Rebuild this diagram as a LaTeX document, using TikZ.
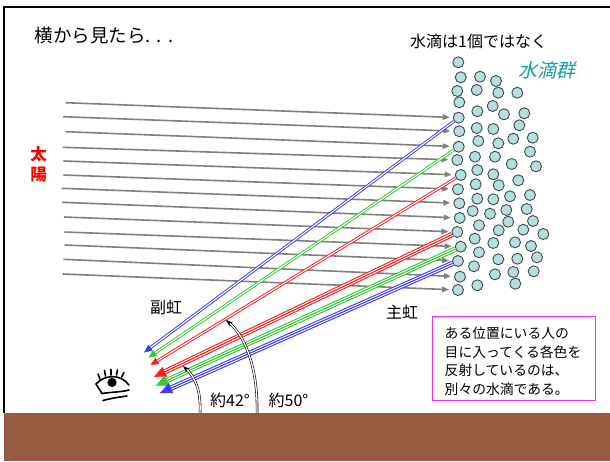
\documentclass[tikz,border=0pt]{standalone}
\usepackage{fontspec}
\setmainfont{Noto Sans CJK JP}
\newfontfamily\slantcjk[FakeSlant=0.22]{Noto Sans CJK JP}
\usetikzlibrary{arrows.meta,calc}
\definecolor{sunray}{RGB}{128,128,128}
\definecolor{dropfill}{RGB}{182,222,222}
\definecolor{dropedge}{RGB}{64,76,76}
\definecolor{rred}{RGB}{255,30,30}
\definecolor{rgreen}{RGB}{50,205,50}
\definecolor{rblue}{RGB}{60,60,255}
\definecolor{ground}{RGB}{150,90,64}
\definecolor{dropteal}{RGB}{20,160,160}
\definecolor{boxpink}{RGB}{240,50,240}

\begin{document}
\begin{tikzpicture}[x=1pt,y=-1pt,
  drop/.style={circle,minimum size=11pt,inner sep=0pt,fill=dropfill,draw=dropedge,line width=0.9pt},
  sun/.style={draw=sunray,line width=1.6pt,-{Triangle[length=7pt,width=5.5pt]},shorten >=3pt},
  lbl/.style={inner sep=0pt,font=\fontsize{16}{18}\selectfont},
  angarc/.style={double=white,draw=black,line width=0.6pt,double distance=1.3pt,-{Stealth[length=7pt,width=5pt]}},
  notebox/.style={draw=boxpink,line width=1.5pt,minimum width=163pt,minimum height=84pt,inner sep=0pt},
]
\useasboundingbox (0,0) rectangle (610,461);

% frame and ground
\fill[ground] (4,413) rectangle (610,461);
\draw[line width=2pt] (4,413) -- (4,6.5) -- (610,6.5);

% titles
\node[inner sep=0pt,font=\fontsize{18.5}{20}\selectfont] (title) at (104,35) {横から見たら.\,\,.\,\,.};
\node[inner sep=0pt,font=\fontsize{16}{18}\selectfont] (notone) at (478.6,41) {水滴は1個ではなく};
\node[inner sep=0pt,font=\fontsize{19}{21}\slantcjk,text=dropteal] (group) at (546.7,70) {水滴群};
\node[inner sep=0pt,font=\fontsize{16.5}{20}\bfseries\selectfont,text=red,align=center] (sun) at (38.5,164) {太\\陽};

% droplets: front column
\foreach \n/\x/\y in {L1/458.3/62.3, L2/460.7/77.3, L3/457.3/91, L4/459.3/102.3,
  L5/458.7/117.7, L6/459.3/131.3, L7/458.7/146.7, L8/457.3/160, L9/460.7/175,
  L10/458/189.3, L11/459.3/203.3, L12/459.7/218, L13/457.3/232, L14/460.7/246.7,
  L15/458/261, L16/460/276.7, L17/458/290}
  \node[drop] (\n) at (\x,\y) {};
% droplets: rest of the cloud
\foreach \x/\y [count=\i] in {480/76.7, 496/81, 476.7/90, 498.3/92.7, 517.3/92.7,
  492.7/106, 477.3/111.3, 504/114.3, 524.3/113.3, 519.3/125.3, 476.7/128,
  493.3/129, 513.3/138.7, 532.7/137.7, 478.3/141, 498.3/143.3, 530/151.7,
  475/156.7, 495/156.7, 511.7/164, 536/166.3, 477.3/170, 493.3/174.3,
  518.3/180.3, 475.7/184.3, 498.7/185.3, 477.3/198.7, 493.3/199.3, 510/196.3,
  530/195, 472.7/211, 490/213.7, 506.3/210, 526.7/209, 479/225.3, 508.3/221.7,
  533/221, 498.7/230.3, 523.3/229.7, 543.3/234, 474.7/238.7, 493.3/243,
  515/242.3, 531/246, 479/252.3, 498.3/259.3, 517.3/258.7, 537/257.3,
  474/266.3, 495/274.3, 513.3/272, 533.7/271.3, 477.3/285.3, 515.3/283.7}
  \node[drop] (D\i) at (\x,\y) {};

% parallel sunlight
\foreach \n/\x/\y/\t in {S1/65.7/102.7/L5, S2/63/116.7/L6, S3/65.7/131.7/L7,
  S4/62.7/147.3/L8, S5/63.3/161/L9, S6/63.3/175/L10, S7/61.7/188.3/L11,
  S8/62/202.3/L12, S9/64/217/L13, S10/64.3/232/L14, S11/64.7/245/L15,
  S12/63.3/259.3/L16, S13/62.7/274/L17} {
  \coordinate (\n) at (\x,\y);
  \draw[sun] (\n) -- (\t);
}

% ends of the coloured rays at the eye
\coordinate (eBs) at (144,352.5);
\coordinate (eGs) at (148.5,357.5);
\coordinate (eRs) at (150.5,365);
\coordinate (eRp) at (154,377);
\coordinate (eGp) at (156,385.5);
\coordinate (eBp) at (160,393);

% secondary bow rays (double lines)
\foreach \s/\e/\c in {L5/eBs/rblue, L7/eGs/rgreen, L9/eRs/rred} {
  \draw[\c, line width=3pt, shorten >=5pt] (\s) -- (\e);
  \draw[white, line width=1.1pt, shorten >=5pt] (\s) -- (\e);
  \draw[\c, line width=0.4pt, -{Triangle[length=8pt,width=7pt]}] ($(\e)!8pt!(\s)$) -- (\e);
}
% primary bow rays (triple lines)
\foreach \s/\e/\c in {L13/eRp/rred, L14/eGp/rgreen, L15/eBp/rblue} {
  \draw[\c, line width=5.4pt, shorten >=9pt] (\s) -- (\e);
  \draw[white, line width=3.2pt, shorten >=9pt] (\s) -- (\e);
  \draw[\c, line width=1.1pt, shorten >=9pt] (\s) -- (\e);
  \draw[\c, line width=0.4pt, -{Triangle[length=12pt,width=11pt]}] ($(\e)!12pt!(\s)$) -- (\e);
}

% angle arcs from the ground
\coordinate (g42) at (200,413);
\coordinate (t42) at (183,366);
\coordinate (g50) at (257,413);
\coordinate (t50) at (226,320);
\draw[angarc] (g42) .. controls (201,392) and (196,378) .. (t42);
\draw[angarc] (g50) .. controls (258,372) and (247,338) .. (t50);

\node[lbl] (a42) at (230,400) {約42°};
\node[lbl] (a50) at (288.5,400) {約50°};
\node[lbl] (second) at (166,307.5) {副虹};
\node[lbl] (first) at (402,312.5) {主虹};

% note
\node[notebox] (note) at (514.2,358.7) {};
\node[anchor=west,inner sep=0pt,align=left,font=\fontsize{13.8}{18.5}\selectfont] (notetext) at (444.5,361.5)
  {ある位置にいる人の\\目に入ってくる各色を\\反射しているのは、\\別々の水滴である。};

% the eye
\begin{scope}[line width=1.6pt, line cap=round]
  \draw (96,384) .. controls (104,375) and (120,373) .. (129,385);
  \draw (96,384) -- (102,393.5);
  \draw (102,393.5) .. controls (112,392) and (122,392) .. (129,390);
  \draw (103,400.5) .. controls (112,398) and (120,397) .. (127,396);
  \draw (100,379) -- (98,374);
  \draw (105.5,376) -- (104.5,370.5);
  \draw (111,375) -- (111,369.5);
  \draw (116.5,375) -- (117.5,370);
  \draw (121.5,377) -- (124,372.5);
  \fill (112,382.5) circle (4.6);
\end{scope}
\end{tikzpicture}
\end{document}
